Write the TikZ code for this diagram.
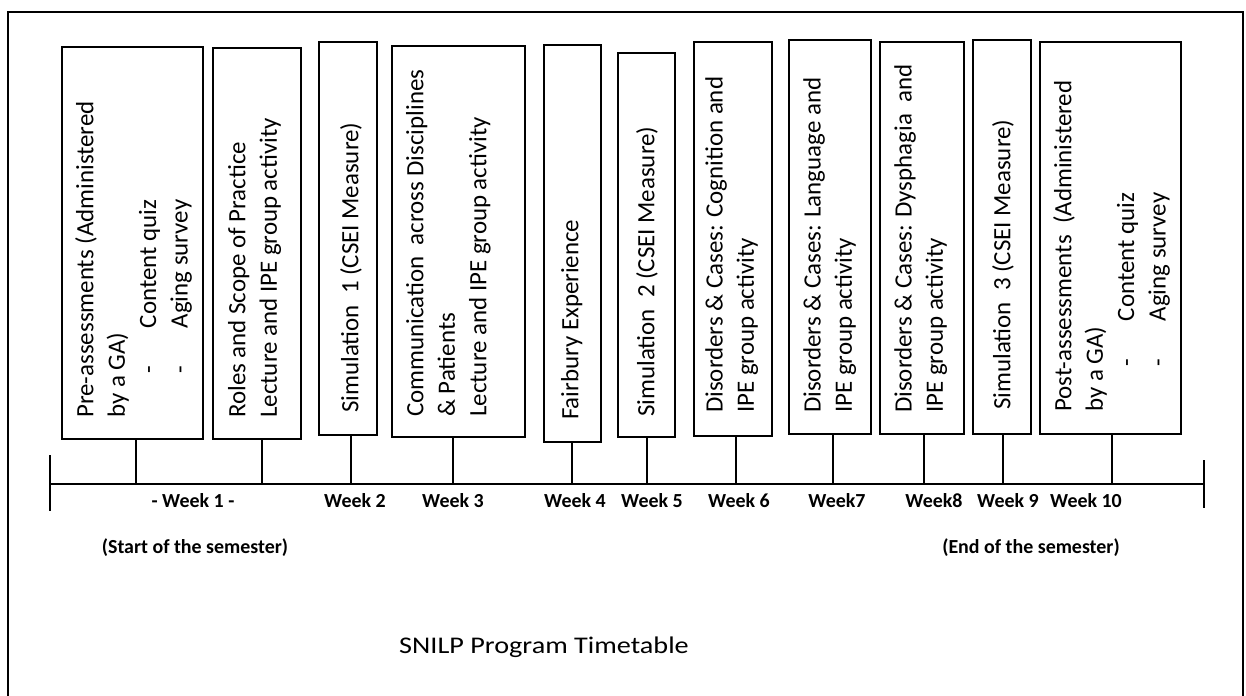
\documentclass[tikz,border=0pt]{standalone}
\usepackage{fontspec}
\setmainfont{Carlito}
\usetikzlibrary{fit}
\tikzset{
  x=1bp, y=-1bp,
  box/.style={draw, line width=1.2bp, inner sep=0pt},
  txt/.style={rotate=90, anchor=north west, inner sep=0pt, align=left, font=\fontsize{25}{31.5}\selectfont},
  wk/.style={anchor=base, inner sep=0pt, font=\fontsize{20}{24}\selectfont\bfseries},
  stem/.style={line width=1.2bp},
}
\begin{document}
\begin{tikzpicture}
\useasboundingbox (0,0) rectangle (1246,696);
% outer frame (open at the bottom edge)
\draw[line width=1.5bp] (8,710) -- (8,12) -- (1243,12) -- (1243,710);

% boxes
\node[box, fit={(62,47) (203,439)}] (b1) {};
\node[box, fit={(213,48) (301,439)}] (b2) {};
\node[box, fit={(319,42) (377,435)}] (b3) {};
\node[box, fit={(392,46) (525,437)}] (b4) {};
\node[box, fit={(544,45) (601,442)}] (b5) {};
\node[box, fit={(618,53) (675,437)}] (b6) {};
\node[box, fit={(694,42) (772,436)}] (b7) {};
\node[box, fit={(789,40) (871,434)}] (b8) {};
\node[box, fit={(880,42) (964,434)}] (b9) {};
\node[box, fit={(973,40) (1031,434)}] (b10) {};
\node[box, fit={(1040,42) (1181,434)}] (b11) {};

% texts
\node[txt] (t1) at (75,418) {Pre-assessments (Administered\\by a GA)\\\hspace*{44bp}-\hspace*{38bp}Content quiz\\\hspace*{44bp}-\hspace*{38bp}Aging survey};
\node[txt] (t2) at (228,418) {Roles and Scope of Practice\\Lecture and IPE group activity};
\node[txt] (t3) at (340,413) {Simulation\ \ 1 (CSEI Measure)};
\node[txt] (t4) at (406,417) {Communication\ \ across Disciplines\\\& Patients\\Lecture and IPE group activity};
\node[txt] (t5) at (561,420) {Fairbury Experience};
\node[txt] (t6) at (636,417) {Simulation\ \ 2 (CSEI Measure)};
\node[txt] (t7) at (705,413) {Disorders \& Cases: Cognition and\\IPE group activity};
\node[txt] (t8) at (803,413) {Disorders \& Cases: Language and\\IPE group activity};
\node[txt] (t9) at (894,413) {Disorders \& Cases: Dysphagia\ \ and\\IPE group activity};
\node[txt] (t10) at (992,410) {Simulation\ \ 3 (CSEI Measure)};
\node[txt] (t11) at (1053,412) {Post-assessments\ \ (Administered\\by a GA)\\\hspace*{45bp}-\hspace*{38bp}Content quiz\\\hspace*{45bp}-\hspace*{38bp}Aging survey};

% axis
\coordinate (axL) at (50,484);
\coordinate (axR) at (1204,484);
\coordinate (tlA) at (50,455);
\coordinate (tlB) at (50,511);
\coordinate (trA) at (1204,460);
\coordinate (trB) at (1204,508);
\draw[line width=1.5bp] (axL) -- (axR);
\draw[line width=1.2bp] (tlA) -- (tlB);
\draw[line width=1.2bp] (trA) -- (trB);

% stems
\coordinate (s1) at (136,484);
\coordinate (s2) at (262,484);
\coordinate (s3) at (351,484);
\coordinate (s4) at (453,484);
\coordinate (s5) at (572,484);
\coordinate (s6) at (647,484);
\coordinate (s7) at (736,484);
\coordinate (s8) at (833,484);
\coordinate (s9) at (924,484);
\coordinate (s10) at (1003,484);
\coordinate (s11) at (1112,484);
\foreach \i in {1,...,11}{
  \draw[stem] (b\i.south -| s\i) -- (s\i);
}

% week labels
\node[wk] (w1) at (193,507) {- Week 1 -};
\node[wk] (w2) at (355,507) {Week 2};
\node[wk] (w3) at (453,507) {Week 3};
\node[wk] (w4) at (575,507) {Week 4};
\node[wk] (w5) at (652,507) {Week 5};
\node[wk] (w6) at (739,507) {Week 6};
\node[wk] (w7) at (837,507) {Week7};
\node[wk] (w8) at (934,507) {Week8};
\node[wk] (w9) at (1008,507) {Week 9};
\node[wk] (w10) at (1086,507) {Week 10};

\node[wk] (start) at (195,553) {(Start of the semester)};
\node[wk] (end) at (1031,553) {(End of the semester)};

\node[anchor=base, inner sep=0pt, xscale=1.18, transform shape, font=\fontsize{24}{28}\selectfont] (title) at (544,653) {SNILP Program Timetable};
\end{tikzpicture}
\end{document}
